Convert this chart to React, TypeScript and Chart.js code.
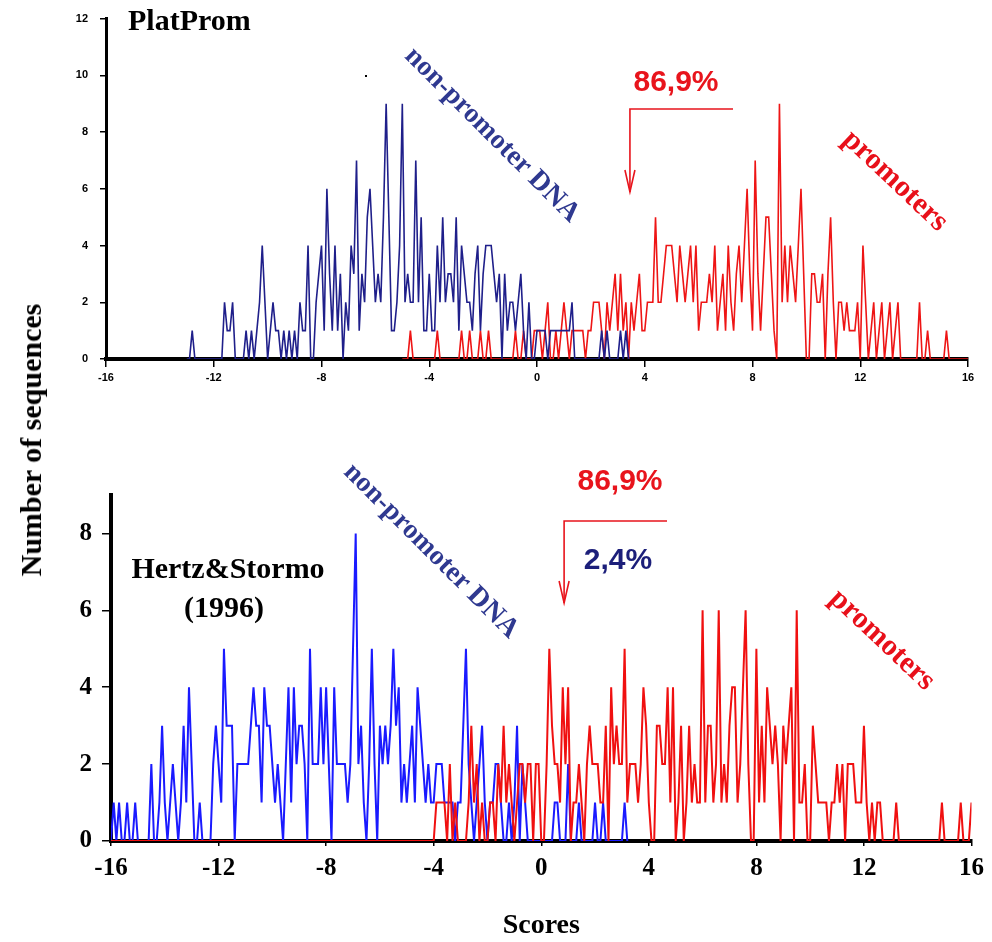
import React, { useEffect, useRef } from "react";
import { Chart, registerables } from "chart.js";

Chart.register(...registerables);

// ---------- data ----------
const SCORE_STEP = 0.1;
const xTickValues = [-16, -12, -8, -4, 0, 4, 8, 12, 16];
const topYTickValues = [0, 2, 4, 6, 8, 10, 12];
const bottomYTickValues = [0, 2, 4, 6, 8];

// PlatProm, non-promoter DNA (scores from -13.0, step 0.1)
const platPromNonPromStart = -13.0;
const platPromNonProm = [
  0, 0, 1, 0, 0, 0, 0, 0, 0, 0, // -13.0
  0, 0, 0, 0, 2, 1, 1, 2, 0, 0, // -12.0
  0, 0, 1, 0, 1, 0, 1, 2, 4, 2, // -11.0
  0, 1, 2, 1, 1, 0, 1, 0, 1, 0, // -10.0
  1, 0, 2, 1, 1, 4, 0, 0, 2, 3, // -9.0
  4, 1, 6, 3, 1, 4, 1, 3, 0, 2, // -8.0
  1, 4, 3, 7, 1, 3, 2, 5, 6, 4, // -7.0
  2, 3, 2, 5, 9, 5, 1, 1, 2, 4, // -6.0
  9, 2, 3, 2, 2, 7, 2, 5, 1, 1, // -5.0
  3, 1, 1, 4, 2, 5, 2, 3, 3, 2, // -4.0
  5, 1, 4, 3, 2, 2, 1, 3, 4, 1, // -3.0
  3, 4, 4, 4, 3, 2, 3, 0, 3, 1, // -2.0
  2, 2, 1, 2, 3, 1, 0, 2, 0, 0, // -1.0
  1, 1, 1, 1, 0, 1, 1, 1, 1, 1, // 0.0
  1, 1, 1, 2, 0, 0, 0, 0, 0, 0, // 1.0
  0, 0, 0, 0, 1, 0, 1, 0, 0, 0, // 2.0
  0, 1, 0, 1, 0,                // 3.0
];

// PlatProm, promoters (scores from -5.0, step 0.1)
const platPromPromStart = -5.0;
const platPromProm = [
  0, 0, 0, 1, 0, 0, 0, 0, 0, 0, // -5.0
  0, 0, 0, 1, 0, 0, 0, 0, 0, 0, // -4.0
  0, 0, 1, 0, 0, 1, 0, 0, 0, 1, // -3.0
  0, 0, 1, 0, 0, 0, 0, 0, 0, 0, // -2.0
  0, 0, 1, 0, 0, 1, 0, 0, 0, 1, // -1.0
  1, 1, 0, 1, 2, 0, 0, 1, 0, 1, // 0.0
  2, 1, 0, 1, 1, 1, 1, 1, 0, 1, // 1.0
  1, 2, 2, 2, 1, 0, 2, 1, 2, 3, // 2.0
  1, 3, 1, 2, 0, 2, 1, 2, 3, 1, // 3.0
  1, 2, 2, 2, 5, 2, 2, 3, 4, 4, // 4.0
  4, 3, 2, 4, 3, 2, 3, 4, 2, 4, // 5.0
  1, 2, 2, 2, 3, 2, 4, 1, 2, 3, // 6.0
  1, 4, 2, 1, 3, 4, 2, 4, 6, 3, // 7.0
  1, 7, 3, 1, 3, 5, 5, 3, 1, 0, // 8.0
  9, 2, 4, 2, 4, 3, 2, 4, 6, 3, // 9.0
  0, 0, 3, 3, 2, 2, 3, 0, 3, 5, // 10.0
  2, 0, 2, 2, 1, 2, 1, 1, 1, 2, // 11.0
  0, 4, 2, 0, 1, 2, 0, 1, 2, 0, // 12.0
  1, 2, 0, 1, 2, 0, 0, 0, 0, 0, // 13.0
  0, 0, 2, 0, 0, 1, 0, 0, 0, 0, // 14.0
  0, 0, 1, 0, 0, 0, 0, 0, 0, 0, // 15.0
  0,                            // 16.0
];

// Hertz&Stormo, non-promoter DNA (scores from -16.0, step 0.1)
const hsNonPromStart = -16.0;
const hsNonProm = [
  0, 1, 0, 1, 0, 0, 1, 0, 0, 1, // -16.0
  0, 0, 0, 0, 0, 2, 0, 0, 1, 3, // -15.0
  1, 0, 1, 2, 1, 0, 1, 3, 1, 4, // -14.0
  2, 0, 0, 1, 0, 0, 0, 0, 2, 3, // -13.0
  2, 1, 5, 3, 3, 3, 0, 2, 2, 2, // -12.0
  2, 2, 3, 4, 3, 3, 1, 4, 3, 3, // -11.0
  2, 1, 2, 1, 0, 2, 4, 1, 4, 2, // -10.0
  3, 3, 2, 0, 5, 2, 2, 2, 4, 2, // -9.0
  4, 2, 0, 4, 2, 2, 2, 2, 1, 2, // -8.0
  5, 8, 2, 3, 1, 0, 2, 5, 2, 0, // -7.0
  3, 2, 3, 2, 3, 5, 3, 4, 1, 2, // -6.0
  1, 2, 3, 1, 4, 3, 2, 1, 2, 1, // -5.0
  1, 2, 2, 2, 1, 1, 1, 1, 0, 1, // -4.0
  1, 3, 5, 2, 1, 0, 1, 2, 3, 1, // -3.0
  0, 1, 1, 2, 2, 1, 0, 0, 1, 0, // -2.0
  1, 3, 0, 2, 1, 0, 0, 0, 0, 0, // -1.0
  0, 0, 0, 0, 0, 1, 1, 0, 0, 0, // 0.0
  2, 0, 0, 0, 1, 0, 0, 0, 0, 0, // 1.0
  1, 0, 0, 1, 0, 0, 0, 0, 0, 0, // 2.0
  0, 1, 0,                      // 3.0
];

// Hertz&Stormo, promoters (scores from -16.0, step 0.1)
const hsPromStart = -16.0;
const hsProm = [
  0, 0, 0, 0, 0, 0, 0, 0, 0, 0, // -16.0
  0, 0, 0, 0, 0, 0, 0, 0, 0, 0, // -15.0
  0, 0, 0, 0, 0, 0, 0, 0, 0, 0, // -14.0
  0, 0, 0, 0, 0, 0, 0, 0, 0, 0, // -13.0
  0, 0, 0, 0, 0, 0, 0, 0, 0, 0, // -12.0
  0, 0, 0, 0, 0, 0, 0, 0, 0, 0, // -11.0
  0, 0, 0, 0, 0, 0, 0, 0, 0, 0, // -10.0
  0, 0, 0, 0, 0, 0, 0, 0, 0, 0, // -9.0
  0, 0, 0, 0, 0, 0, 0, 0, 0, 0, // -8.0
  0, 0, 0, 0, 0, 0, 0, 0, 0, 0, // -7.0
  0, 0, 0, 0, 0, 0, 0, 0, 0, 0, // -6.0
  0, 0, 0, 0, 0, 0, 0, 0, 0, 0, // -5.0
  0, 1, 1, 1, 1, 0, 2, 0, 1, 0, // -4.0
  0, 0, 0, 1, 3, 1, 2, 0, 1, 0, // -3.0
  0, 1, 1, 0, 2, 1, 3, 1, 2, 1, // -2.0
  0, 1, 2, 2, 1, 2, 2, 0, 2, 2, // -1.0
  0, 0, 2, 5, 3, 2, 2, 1, 4, 2, // 0.0
  4, 0, 1, 1, 2, 1, 0, 2, 3, 2, // 1.0
  2, 2, 1, 1, 3, 0, 4, 2, 3, 2, // 2.0
  2, 5, 1, 2, 2, 2, 1, 2, 4, 3, // 3.0
  1, 0, 0, 3, 3, 2, 2, 4, 1, 4, // 4.0
  0, 1, 3, 0, 1, 3, 1, 2, 1, 1, // 5.0
  6, 1, 3, 3, 1, 2, 6, 1, 2, 1, // 6.0
  3, 4, 4, 1, 2, 4, 6, 2, 0, 0, // 7.0
  5, 1, 3, 1, 4, 3, 2, 3, 2, 0, // 8.0
  3, 2, 3, 4, 0, 6, 1, 1, 2, 0, // 9.0
  0, 3, 2, 1, 1, 1, 1, 0, 1, 1, // 10.0
  2, 1, 2, 0, 2, 2, 2, 1, 1, 1, // 11.0
  3, 1, 0, 1, 0, 1, 1, 0, 0, 0, // 12.0
  0, 0, 1, 0, 0, 0, 0, 0, 0, 0, // 13.0
  0, 0, 0, 0, 0, 0, 0, 0, 0, 1, // 14.0
  0, 0, 0, 0, 0, 0, 1, 0, 0, 0, // 15.0
  1,                            // 16.0
];

// score thresholds marked by arrows
const platPromThreshold = 3.45;
const hsThreshold = 0.85;

// ---------- helpers ----------
function toPoints(start: number, values: number[]) {
  return values.map((v, i) => ({ x: Math.round((start + i * SCORE_STEP) * 100) / 100, y: v }));
}

const SERIF = '"Liberation Serif", "Times New Roman", serif';
const SANS = '"Liberation Sans", Arial, sans-serif';

function rotatedText(ctx: CanvasRenderingContext2D, text: string, cx: number, cy: number, angle: number, font: string, color: string) {
  ctx.save();
  ctx.translate(cx, cy);
  ctx.rotate(angle);
  ctx.font = font;
  ctx.fillStyle = color;
  ctx.textAlign = "center";
  ctx.textBaseline = "middle";
  ctx.fillText(text, 0, 0);
  ctx.restore();
}

function drawBracket(ctx: CanvasRenderingContext2D, x: number, yTop: number, xRight: number, yTip: number, color: string) {
  ctx.save();
  ctx.strokeStyle = color;
  ctx.lineWidth = 1.6;
  ctx.beginPath();
  ctx.moveTo(xRight, yTop);
  ctx.lineTo(x, yTop);
  ctx.lineTo(x, yTip);
  ctx.stroke();
  ctx.beginPath();
  ctx.moveTo(x - 5, yTip - 22);
  ctx.lineTo(x, yTip);
  ctx.lineTo(x + 5, yTip - 22);
  ctx.stroke();
  ctx.restore();
}

function setTicks(values: number[]) {
  return (scale: any) => {
    scale.ticks = values.map((v) => ({ value: v }));
  };
}

// ---------- plugins ----------
const topAnnotations = {
  id: "topAnnotations",
  afterDraw(chart: any) {
    const ctx: CanvasRenderingContext2D = chart.ctx;
    ctx.save();
    ctx.fillStyle = "#000";
    ctx.font = `bold 30px ${SERIF}`;
    ctx.textAlign = "left";
    ctx.textBaseline = "alphabetic";
    ctx.fillText("PlatProm", 128, 30);
    ctx.fillRect(365, 75, 2, 2);
    rotatedText(ctx, "non-promoter DNA", 492, 135, Math.PI / 4, `bold 28px ${SERIF}`, "#2f3990");
    rotatedText(ctx, "promoters", 895, 181, Math.PI / 4 - 0.03, `bold 30px ${SERIF}`, "#e8101a");
    ctx.font = `bold 30px ${SANS}`;
    ctx.fillStyle = "#e8141c";
    ctx.textAlign = "center";
    ctx.textBaseline = "middle";
    ctx.fillText("86,9%", 676, 83);
    const ax = chart.scales.x.getPixelForValue(platPromThreshold);
    drawBracket(ctx, ax, 109, 733, 192, "#e8141c");
    ctx.restore();
  },
};

const bottomAnnotations = {
  id: "bottomAnnotations",
  afterDraw(chart: any) {
    const ctx: CanvasRenderingContext2D = chart.ctx;
    ctx.save();
    ctx.fillStyle = "#000";
    ctx.font = `bold 30px ${SERIF}`;
    ctx.textAlign = "center";
    ctx.textBaseline = "middle";
    ctx.fillText("Hertz&Stormo", 228, 170);
    ctx.fillText("(1996)", 224, 209);
    rotatedText(ctx, "non-promoter DNA", 431, 151, Math.PI / 4, `bold 28px ${SERIF}`, "#2f3990");
    rotatedText(ctx, "promoters", 882, 240, Math.PI / 4 - 0.03, `bold 30px ${SERIF}`, "#e8101a");
    ctx.font = `bold 30px ${SANS}`;
    ctx.fillStyle = "#e8141c";
    ctx.fillText("86,9%", 620, 82);
    ctx.fillStyle = "#1c1f7a";
    ctx.fillText("2,4%", 618, 161);
    const ax = chart.scales.x.getPixelForValue(hsThreshold);
    drawBracket(ctx, ax, 121, 667, 203, "#e8141c");
    // x axis title
    ctx.fillStyle = "#000";
    ctx.font = `bold 28px ${SERIF}`;
    const area = chart.chartArea;
    ctx.fillText("Scores", (area.left + area.right) / 2, 526);
    ctx.restore();
  },
};

// ---------- configs ----------
function topConfig(): any {
  const tickFont = { family: SANS, weight: "bold", size: 11 };
  return {
    type: "line",
    data: {
      datasets: [
        {
          data: toPoints(platPromNonPromStart, platPromNonProm),
          borderColor: "#1f1f8a",
          borderWidth: 1.6,
          pointRadius: 0,
          tension: 0,
        },
        {
          data: toPoints(platPromPromStart, platPromProm),
          borderColor: "#ee1515",
          borderWidth: 1.6,
          pointRadius: 0,
          tension: 0,
        },
      ],
    },
    options: {
      responsive: false,
      animation: false,
      devicePixelRatio: 1,
      layout: { padding: { left: 0, right: 24, top: 14, bottom: 0 } },
      plugins: { legend: { display: false }, tooltip: { enabled: false } },
      scales: {
        x: {
          type: "linear",
          min: -16,
          max: 16,
          afterBuildTicks: setTicks(xTickValues),
          afterFit: (s: any) => {
            s.height = 41;
          },
          grid: { drawOnChartArea: false, drawTicks: true, tickLength: 8, color: "#000", lineWidth: 1.5 },
          border: { display: true, color: "#000", width: 4 },
          ticks: { font: tickFont, color: "#000", padding: 4, maxRotation: 0, minRotation: 0, autoSkip: false },
        },
        y: {
          type: "linear",
          min: 0,
          max: 12,
          afterBuildTicks: setTicks(topYTickValues),
          afterFit: (s: any) => {
            s.width = 106;
          },
          grid: { drawOnChartArea: false, drawTicks: true, tickLength: 6, color: "#000", lineWidth: 1.5 },
          border: { display: true, color: "#000", width: 3 },
          ticks: { font: tickFont, color: "#000", padding: 12 },
        },
      },
    },
    plugins: [topAnnotations],
  };
}

function bottomConfig(): any {
  const tickFont = { family: SERIF, weight: "bold", size: 25 };
  return {
    type: "line",
    data: {
      datasets: [
        {
          data: toPoints(hsPromStart, hsProm),
          borderColor: "#f01010",
          borderWidth: 2,
          pointRadius: 0,
          tension: 0,
        },
        {
          data: toPoints(hsNonPromStart, hsNonProm),
          borderColor: "#1a1aff",
          borderWidth: 2,
          pointRadius: 0,
          tension: 0,
        },
      ],
    },
    options: {
      responsive: false,
      animation: false,
      devicePixelRatio: 1,
      layout: { padding: { left: 0, right: 19, top: 95, bottom: 0 } },
      plugins: { legend: { display: false }, tooltip: { enabled: false } },
      scales: {
        x: {
          type: "linear",
          min: -16,
          max: 16,
          afterBuildTicks: setTicks(xTickValues),
          afterFit: (s: any) => {
            s.height = 101;
          },
          grid: { drawOnChartArea: false, drawTicks: true, tickLength: 5, color: "#000", lineWidth: 1.5 },
          border: { display: true, color: "#000", width: 4 },
          ticks: { font: tickFont, color: "#000", padding: 8, maxRotation: 0, minRotation: 0, autoSkip: false },
        },
        y: {
          type: "linear",
          min: 0,
          max: 9,
          afterBuildTicks: setTicks(bottomYTickValues),
          afterFit: (s: any) => {
            s.width = 111;
          },
          grid: { drawOnChartArea: false, drawTicks: true, tickLength: 9, color: "#000", lineWidth: 1.5 },
          border: { display: true, color: "#000", width: 4 },
          ticks: { font: tickFont, color: "#000", padding: 10 },
        },
      },
    },
    plugins: [bottomAnnotations],
  };
}

export default function App() {
  const topRef = useRef<HTMLCanvasElement>(null);
  const botRef = useRef<HTMLCanvasElement>(null);

  useEffect(() => {
    const c1 = new Chart(topRef.current as HTMLCanvasElement, topConfig());
    const c2 = new Chart(botRef.current as HTMLCanvasElement, bottomConfig());
    return () => {
      c1.destroy();
      c2.destroy();
    };
  }, []);

  return (
    <div style={{ position: "absolute", left: 0, top: 0, width: 992, height: 942, background: "#fff", overflow: "hidden" }}>
      <canvas ref={topRef} width={992} height={400} style={{ position: "absolute", left: 0, top: 0, width: 992, height: 400 }} />
      <canvas ref={botRef} width={992} height={542} style={{ position: "absolute", left: 0, top: 400, width: 992, height: 542 }} />
      <div
        style={{
          position: "absolute",
          left: 31,
          top: 440,
          transform: "translate(-50%, -50%) rotate(-90deg)",
          font: `bold 30px ${SERIF}`,
          whiteSpace: "nowrap",
          color: "#000",
        }}
      >
        Number of sequences
      </div>
    </div>
  );
}
